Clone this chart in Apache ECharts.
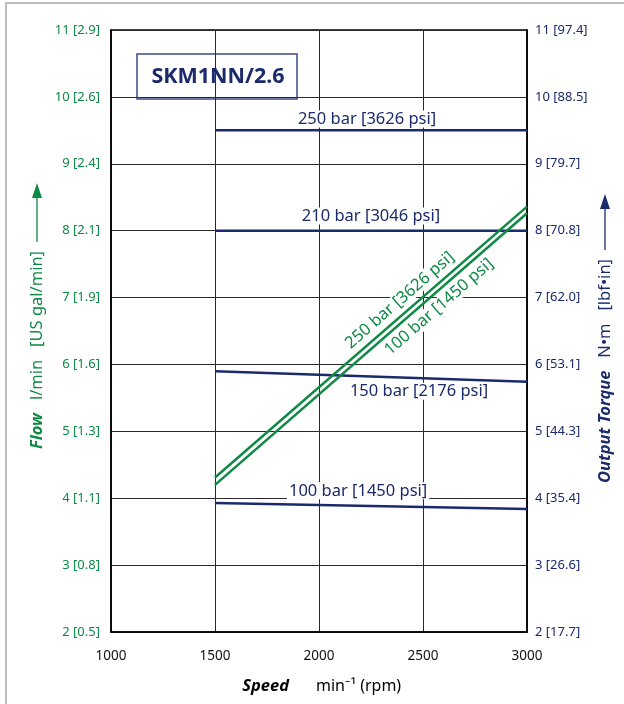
<!DOCTYPE html>
<html>
<head>
<meta charset="utf-8">
<title>SKM1NN/2.6</title>
<script src="https://cdn.jsdelivr.net/npm/echarts@6/dist/echarts.min.js"></script>
<style>
  html, body { margin: 0; padding: 0; background: #fff; }
  #chart { width: 624px; height: 704px; }
</style>
</head>
<body>
<div id="chart"></div>
<script>
// speed range of all curves, min^-1
var speed = [1500, 3000];
// output torque, N·m
var torque250 = [9.5, 9.5];
var torque210 = [8.0, 8.0];
var torque150 = [5.9, 5.74];
var torque100 = [3.93, 3.84];
// flow, l/min
var flow250 = [4.31, 8.36];
var flow100 = [4.2, 8.26];

var flowTicks = ['2 [0.5]', '3 [0.8]', '4 [1.1]', '5 [1.3]', '6 [1.6]', '7 [1.9]', '8 [2.1]', '9 [2.4]', '10 [2.6]', '11 [2.9]'];
var torqueTicks = ['2 [17.7]', '3 [26.6]', '4 [35.4]', '5 [44.3]', '6 [53.1]', '7 [62.0]', '8 [70.8]', '9 [79.7]', '10 [88.5]', '11 [97.4]'];

var NAVY = '#1b2a6b';
var GREEN = '#0e8a45';
var FONT = 'Noto Sans';

function pts(ys) {
    return speed.map(function (s, i) { return [s, ys[i]]; });
}

// label anchor, in data units
function tag(text, at, color, rotate) {
    return {
        symbol: 'rect',
        symbolSize: 0,
        silent: true,
        data: [{
            coord: at,
            label: {
                show: true,
                position: 'inside',
                formatter: text,
                color: color,
                fontFamily: FONT,
                fontSize: 16.5,
                rotate: rotate || 0,
                backgroundColor: '#fff',
                padding: [0, 2]
            }
        }]
    };
}

function line(name, ys, color, yIdx, mark) {
    return {
        name: name,
        type: 'line',
        yAxisIndex: yIdx,
        data: pts(ys),
        symbol: 'none',
        silent: true,
        animation: false,
        lineStyle: { color: color, width: 2.5 },
        markPoint: mark,
        z: 3
    };
}

var chart = echarts.init(document.getElementById('chart'));
var option = {
    animation: false,
    textStyle: { fontFamily: FONT },
    grid: {
        left: 111, right: 97, top: 30, bottom: 72,
        show: true, borderColor: '#000', borderWidth: 1.5, backgroundColor: '#fff'
    },
    xAxis: {
        type: 'value', min: 1000, max: 3000, interval: 500,
        axisLine: { show: true, lineStyle: { color: '#000', width: 1.5 } },
        axisTick: { show: false },
        splitLine: { show: true, lineStyle: { color: '#2a2a2a', width: 1 } },
        axisLabel: {
            color: '#111', fontSize: 13.5, margin: 17, fontFamily: FONT,
            formatter: function (v) { return String(v); }
        }
    },
    yAxis: [{
        type: 'value', min: 2, max: 11, interval: 1, position: 'left',
        axisLine: { show: true, lineStyle: { color: '#000', width: 1.5 } },
        axisTick: { show: false },
        splitLine: { show: true, lineStyle: { color: '#2a2a2a', width: 1 } },
        axisLabel: {
            color: GREEN, fontSize: 13, margin: 11, fontFamily: FONT,
            formatter: function (v) { return flowTicks[v - 2]; }
        }
    }, {
        type: 'value', min: 2, max: 11, interval: 1, position: 'right',
        axisLine: { show: true, lineStyle: { color: '#000', width: 1.5 } },
        axisTick: { show: false },
        splitLine: { show: false },
        axisLabel: {
            color: NAVY, fontSize: 13, margin: 8, fontFamily: FONT,
            formatter: function (v) { return torqueTicks[v - 2]; }
        }
    }],
    series: [
        line('T 250 bar', torque250, NAVY, 1, tag('250 bar [3626 psi]', [2231, 9.67], NAVY)),
        line('T 210 bar', torque210, NAVY, 1, tag('210 bar [3046 psi]', [2250, 8.22], NAVY)),
        line('T 150 bar', torque150, NAVY, 1, tag('150 bar [2176 psi]', [2481, 5.6], NAVY)),
        line('T 100 bar', torque100, NAVY, 1, tag('100 bar [1450 psi]', [2188, 4.11], NAVY)),
        line('Q 250 bar', flow250, GREEN, 0, tag('250 bar [3626 psi]', [2389, 6.96], GREEN, 41)),
        line('Q 100 bar', flow100, GREEN, 0, tag('100 bar [1450 psi]', [2577, 6.86], GREEN, 41))
    ],
    graphic: [
        // outer frame
        { type: 'rect', z: -10, shape: { x: 6, y: 3, width: 700, height: 760 },
          style: { fill: null, stroke: '#bdbdbd', lineWidth: 2 } },
        // model box
        { type: 'group', z: 50, children: [
            { type: 'rect', shape: { x: 137, y: 54, width: 160, height: 45 },
              style: { fill: '#fff', stroke: '#3d4a8a', lineWidth: 1.5 } },
            { type: 'text', x: 218, y: 77,
              style: { text: 'SKM1NN/2.6', fill: NAVY, font: 'bold 21.5px "Noto Sans"',
                       align: 'center', verticalAlign: 'middle' } }
        ] },
        // x axis name
        { type: 'text', x: 289, y: 686,
          style: { text: 'Speed', fill: '#000', font: 'italic bold 16.5px "Noto Sans"',
                   align: 'right', verticalAlign: 'middle' } },
        { type: 'text', x: 316, y: 686,
          style: { text: 'min\u207B\u00B9 (rpm)', fill: '#000', font: '16px "Noto Sans"',
                   align: 'left', verticalAlign: 'middle' } },
        // left axis name
        { type: 'text', x: 37, y: 350, rotation: Math.PI / 2,
          style: {
              text: '{b|Flow}   l/min   [US gal/min]',
              fill: GREEN, font: '16.5px "Noto Sans"', align: 'center', verticalAlign: 'middle',
              rich: { b: { fontStyle: 'italic', fontWeight: 'bold', fontSize: 16.5, fill: GREEN, fontFamily: FONT } }
          } },
        { type: 'line', shape: { x1: 37, y1: 242, x2: 37, y2: 196 },
          style: { stroke: GREEN, lineWidth: 1.3 } },
        { type: 'polygon', shape: { points: [[37, 183], [32, 198], [42, 198]] },
          style: { fill: GREEN } },
        // right axis name
        { type: 'text', x: 605, y: 371, rotation: Math.PI / 2,
          style: {
              text: '{b|Output Torque}   N\u2022m   [lbf\u2022in]',
              fill: NAVY, font: '16.5px "Noto Sans"', align: 'center', verticalAlign: 'middle',
              rich: { b: { fontStyle: 'italic', fontWeight: 'bold', fontSize: 16.5, fill: NAVY, fontFamily: FONT } }
          } },
        { type: 'line', shape: { x1: 605, y1: 250, x2: 605, y2: 208 },
          style: { stroke: NAVY, lineWidth: 1.3 } },
        { type: 'polygon', shape: { points: [[605, 194], [600, 209], [610, 209]] },
          style: { fill: NAVY } }
    ]
};
chart.setOption(option);
</script>
</body>
</html>
